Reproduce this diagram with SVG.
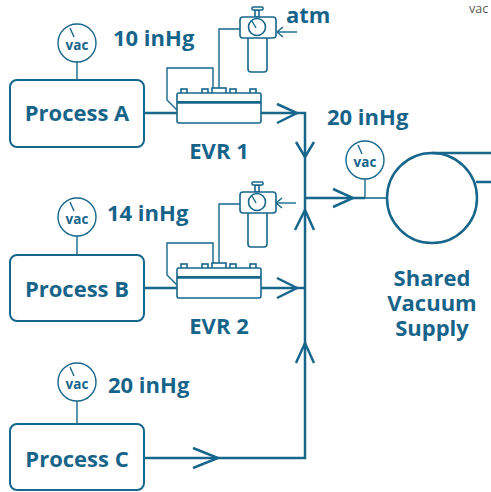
<svg xmlns="http://www.w3.org/2000/svg" width="491" height="492" viewBox="0 0 491 492">
<style>
.t{font-family:"Open Sans","Noto Sans",sans-serif;font-weight:bold;fill:#17648a;font-size:22px}
.vac{font-family:"Open Sans","Noto Sans",sans-serif;font-weight:bold;fill:#17648a;font-size:13.5px;text-anchor:middle}
.box{fill:#fff;stroke:#17668b;stroke-width:2}
.pipe{fill:none;stroke:#17668b;stroke-width:2.5;stroke-linejoin:miter}
.thin{fill:none;stroke:#17668b;stroke-width:1.4}
.g{fill:#fff;stroke:#17668b;stroke-width:1.4}
.evr{fill:#fff;stroke:#17668b;stroke-width:1.6}
</style>
<defs>
<g id="gauge">
<circle class="g" cx="0" cy="0" r="19"/>
<line class="thin" x1="-7" y1="-15" x2="-3" y2="-6"/>
<text class="vac" x="0" y="7">vac</text>
</g>
<g id="evrdev">
<path class="thin" d="M177,110 L167,100 L167,68 L213,68 L213,89"/>
<path class="thin" d="M219,89 L219,29 L240,29"/>
<rect class="evr" x="181" y="89" width="6" height="5"/>
<rect class="evr" x="202" y="89" width="6" height="5"/>
<rect class="evr" x="212" y="88" width="14" height="6"/>
<rect class="evr" x="230" y="89" width="6" height="5"/>
<rect class="evr" x="250" y="89" width="6" height="5"/>
<rect class="evr" x="177" y="93" width="84" height="9" rx="1.5"/>
<path class="evr" d="M177,102 L261,102 L261,121 Q261,123 259,123 L179,123 Q177,123 177,121 Z"/>
<line x1="177" y1="102.5" x2="261" y2="102.5" stroke="#17668b" stroke-width="2.5"/>
<path class="evr" d="M248,38 L248,69 Q248,72 251,72 L264,72 Q267,72 267,69 L267,38"/>
<rect class="evr" x="255" y="10" width="4" height="7"/>
<rect class="evr" x="252" y="7" width="11" height="3" rx="1"/>
<rect class="evr" x="240" y="17" width="36" height="21" rx="3"/>
<circle class="evr" cx="257" cy="27" r="8.5"/>
<line class="thin" x1="252" y1="21" x2="256" y2="28"/>
</g>
</defs>

<text x="469" y="13" font-family="'Open Sans','Noto Sans',sans-serif" font-size="12.5" fill="#595959">vac</text>

<g id="connectors">
<line class="pipe" x1="144" y1="113" x2="177" y2="113"/>
<path class="pipe" d="M261,113 L305,113 L305,458 L144,458"/>
<line class="pipe" x1="144" y1="288" x2="177" y2="288"/>
<line class="pipe" x1="261" y1="288" x2="305" y2="288"/>
<line class="pipe" x1="305" y1="198" x2="365" y2="198"/>
<line x1="365" y1="198" x2="388" y2="198" stroke="#4a8aa8" stroke-width="2"/>
<polyline class="pipe" points="277,104 297,113 277,123"/>
<polyline class="pipe" points="277,278 297,288 277,298"/>
<polyline class="pipe" points="296,142 305,157 314,142"/>
<polyline class="pipe" points="295,230 305,210 314,230"/>
<polyline class="pipe" points="296,363 305,343 314,363"/>
<polyline class="pipe" points="333,189 353,198 333,207"/>
<polyline class="pipe" points="193,448 218,458 193,468"/>
<line class="thin" x1="77" y1="62" x2="77" y2="80"/>
<line class="thin" x1="77" y1="236" x2="77" y2="255"/>
<line class="thin" x1="77" y1="401" x2="77" y2="424"/>
<line class="thin" x1="365" y1="179" x2="365" y2="198"/>
<line class="thin" x1="297" y1="32" x2="277" y2="32"/>
<polyline class="thin" points="283,27 277,32 283,37"/>
<line class="thin" x1="296" y1="203" x2="276" y2="203"/>
<polyline class="thin" points="282,198 276,203 282,208"/>
</g>

<g id="processA">
<rect class="box" x="10" y="80" width="134" height="67" rx="7"/>
<text class="t" x="77" y="121" text-anchor="middle">Process A</text>
<use href="#gauge" x="77" y="43"/>
<text class="t" x="113" y="46">10 inHg</text>
</g>

<g id="processB">
<rect class="box" x="10" y="255" width="134" height="66" rx="7"/>
<text class="t" x="77" y="297" text-anchor="middle">Process B</text>
<use href="#gauge" x="77" y="217"/>
<text class="t" x="107" y="221">14 inHg</text>
</g>

<g id="processC">
<rect class="box" x="10" y="424" width="134" height="66" rx="7"/>
<text class="t" x="77" y="467" text-anchor="middle">Process C</text>
<use href="#gauge" x="77" y="382"/>
<text class="t" x="108" y="393">20 inHg</text>
</g>

<g id="evr1">
<use href="#evrdev"/>
<text class="t" x="219" y="159" text-anchor="middle">EVR 1</text>
<text class="t" x="286" y="23">atm</text>
</g>

<g id="evr2">
<use href="#evrdev" y="175"/>
<text class="t" x="219" y="334" text-anchor="middle">EVR 2</text>
</g>

<g id="supply">
<use href="#gauge" x="365" y="160"/>
<text class="t" x="327" y="125">20 inHg</text>
<circle cx="432" cy="198" r="45" fill="#fff" stroke="#17668b" stroke-width="2.5"/>
<line class="pipe" x1="432" y1="153" x2="491" y2="153"/>
<line class="pipe" x1="476" y1="182" x2="491" y2="182"/>
<text class="t" text-anchor="middle"><tspan x="432" y="286">Shared</tspan><tspan x="432" y="311">Vacuum</tspan><tspan x="432" y="336">Supply</tspan></text>
</g>
</svg>
